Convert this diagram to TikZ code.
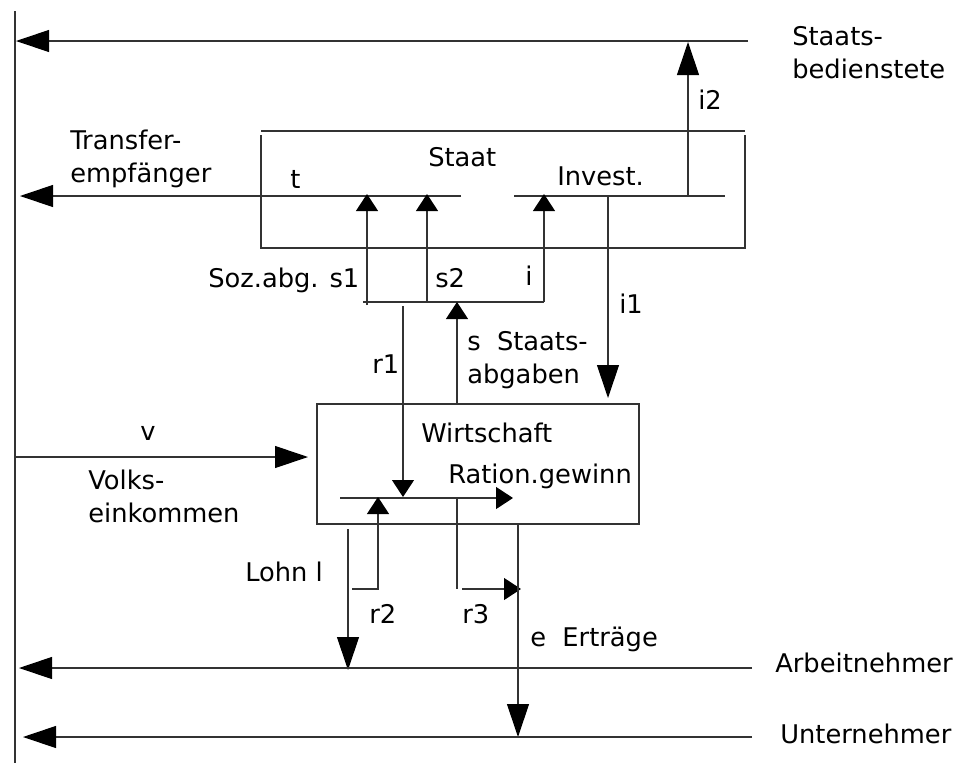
\documentclass[tikz,border=0pt]{standalone}
\usepackage{fontspec}
\setmainfont{DejaVu Sans}
\usepackage{tikz}
\usetikzlibrary{arrows.meta}

\begin{document}
\begin{tikzpicture}[x=0.25mm,y=-0.25mm]
\useasboundingbox (0,0) rectangle (969,763);

\tikzstyle{linie}=[draw=black!80,line width=0.28mm];
\tikzstyle{lang}=[linie,-{Triangle[length=8.25mm,width=5.5mm,color=black]}];
\tikzstyle{kurz}=[linie,-{Triangle[length=4.25mm,width=5.5mm,color=black]}];
\tikzstyle{txt}=[anchor=base west,inner sep=0,align=left,font=\fontsize{18.3}{22.8}\selectfont];

% Punkte
\coordinate (st1) at (261,131);    \coordinate (st2) at (745,131);
\coordinate (st3) at (261,135);    \coordinate (st4) at (745,135);
\coordinate (st5) at (261,248);    \coordinate (st6) at (745,248);
\coordinate (w1) at (317,404);     \coordinate (w2) at (639,524);
\coordinate (oben1) at (748,41);   \coordinate (oben2) at (16,41);
\coordinate (links1) at (15,11);   \coordinate (links2) at (15,763);
\coordinate (t1) at (461,196);     \coordinate (t2) at (20,196);
\coordinate (inv1) at (514,196);   \coordinate (inv2) at (725,196);
\coordinate (i2a) at (688,196);    \coordinate (i2b) at (688,42);
\coordinate (i1a) at (608,196);    \coordinate (i1b) at (608,398);
\coordinate (s1a) at (367,305);    \coordinate (s1b) at (367,194);
\coordinate (s2a) at (427,302);    \coordinate (s2b) at (427,194);
\coordinate (ia) at (544,302);     \coordinate (ib) at (544,194);
\coordinate (sam) at (363,302);
\coordinate (r1a) at (403,306);    \coordinate (r1b) at (403,497);
\coordinate (sa) at (457,404);     \coordinate (sb) at (457,302);
\coordinate (va) at (15,457);      \coordinate (vb) at (308,457);
\coordinate (rga) at (340,498);    \coordinate (rgb) at (513,498);
\coordinate (r2a) at (352,589);    \coordinate (r2b) at (378,589);   \coordinate (r2c) at (378,497);
\coordinate (r3a) at (457,498);    \coordinate (r3b) at (457,589);
\coordinate (r3c) at (462,589);    \coordinate (r3d) at (521,589);
\coordinate (la) at (348,529);     \coordinate (lb) at (348,670);
\coordinate (ea) at (518,524);     \coordinate (eb) at (518,737);
\coordinate (an1) at (752,668);    \coordinate (an2) at (19,668);
\coordinate (un1) at (752,737);    \coordinate (un2) at (23,737);

% Kästen
\draw[linie] (st1)--(st2);
\draw[linie] (st3)--(st5)--(st6)--(st4);
\draw[linie] (w1) rectangle (w2);

% Linien
\draw[linie] (links1)--(links2);
\draw[lang] (oben1)--(oben2);
\draw[lang] (t1)--(t2);
\draw[linie] (inv1)--(inv2);
\draw[lang] (i2a)--(i2b);
\draw[lang] (i1a)--(i1b);
\draw[kurz] (s1a)--(s1b);
\draw[kurz] (s2a)--(s2b);
\draw[kurz] (ia)--(ib);
\draw[linie] (sam)--(ia);
\draw[kurz] (r1a)--(r1b);
\draw[kurz] (sa)--(sb);
\draw[lang] (va)--(vb);
\draw[kurz] (rga)--(rgb);
\draw[kurz] (r2a)--(r2b)--(r2c);
\draw[linie] (r3a)--(r3b);
\draw[kurz] (r3c)--(r3d);
\draw[lang] (la)--(lb);
\draw[lang] (ea)--(eb);
\draw[lang] (an1)--(an2);
\draw[lang] (un1)--(un2);

% Texte (mehrzeilig: Grundlinie der letzten Zeile)
\node[txt] (bed) at (792,78) {Staats-\\bedienstete};
\node[txt] (trans) at (70,182) {Transfer-\\empfänger};
\node[txt] (tt) at (290,188) {t};
\node[txt] (staat) at (428,166) {Staat};
\node[txt] (invl) at (557,185) {Invest.};
\node[txt] (i2l) at (698,109) {i2};
\node[txt] (sozl) at (208,287) {Soz.abg. s1};
\node[txt] (s2l) at (435,287) {s2};
\node[txt] (il) at (525,285) {i};
\node[txt] (i1l) at (619,313) {i1};
\node[txt] (r1l) at (372,373) {r1};
\node[txt] (sl) at (467,383) {s\ \ Staats-\\abgaben};
\node[txt] (wirt) at (421,442) {Wirtschaft};
\node[txt] (rgl) at (448,483) {Ration.gewinn};
\node[txt] (vl) at (140,440) {v};
\node[txt] (volk) at (88,522) {Volks-\\einkommen};
\node[txt] (lohn) at (245,581) {Lohn l};
\node[txt] (r2l) at (369,623) {r2};
\node[txt] (r3l) at (462,623) {r3};
\node[txt] (el) at (530,646) {e\ \ Erträge};
\node[txt] (arb) at (775,672) {Arbeitnehmer};
\node[txt] (unt) at (780,743) {Unternehmer};
\end{tikzpicture}
\end{document}
